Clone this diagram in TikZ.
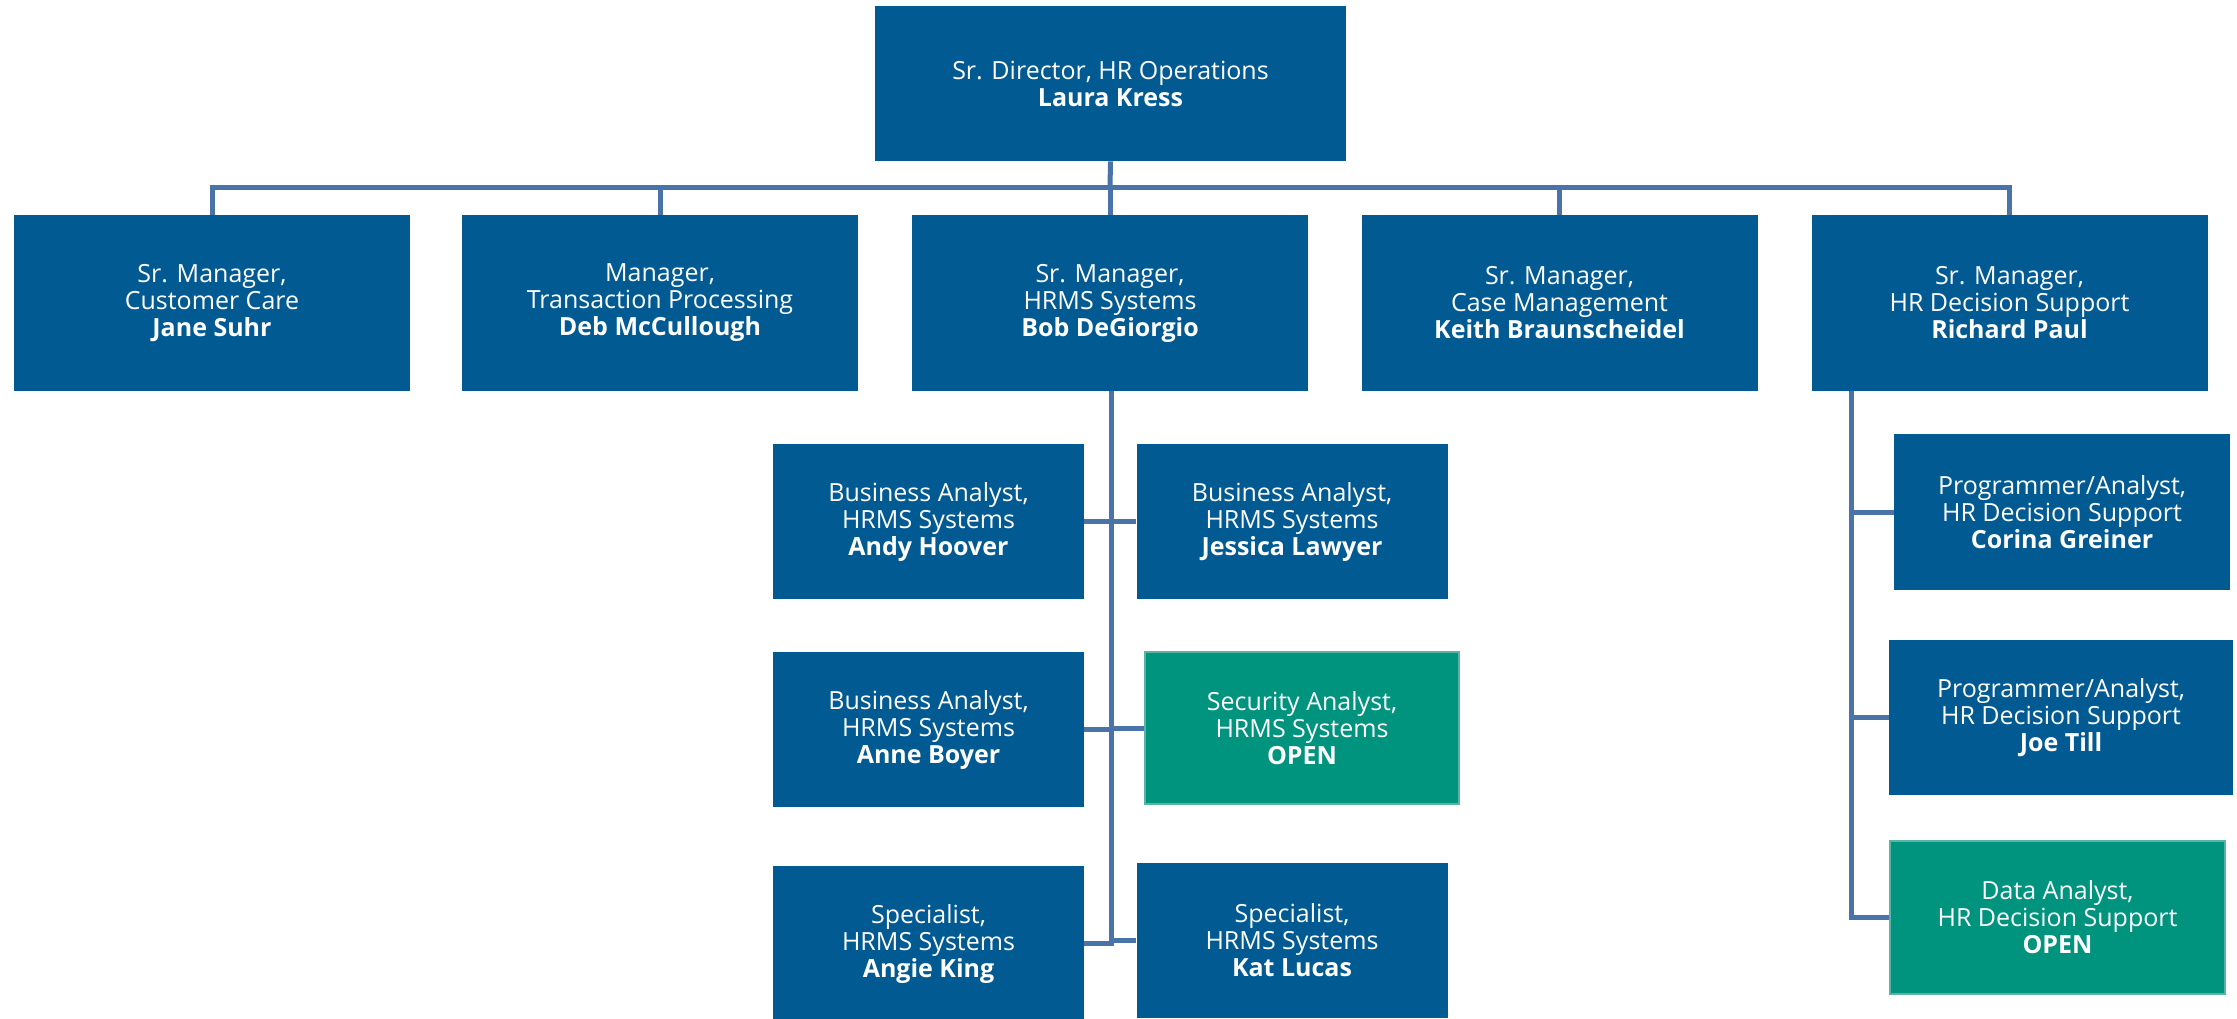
\documentclass[tikz,border=0pt]{standalone}
\usepackage{fontspec}
\setmainfont{Open Sans}
\definecolor{boxblue}{RGB}{2,90,147}
\definecolor{boxgreen}{RGB}{0,147,126}
\definecolor{greenedge}{RGB}{90,180,165}
\definecolor{linkblue}{RGB}{74,115,170}
\begin{document}
\begin{tikzpicture}[x=0.5pt,y=-0.5pt,
  orgbox/.style={fill=boxblue, text=white, align=center, inner sep=0pt,
    font=\fontsize{12.5}{13.5}\selectfont},
  openbox/.style={orgbox, fill=boxgreen, draw=greenedge, line width=0.6pt},
  lvltwo/.style={minimum width=198pt, minimum height=88pt},
  staff/.style={minimum width=155.5pt, minimum height=77.5pt},
  conn/.style={draw=linkblue, line width=2.5pt, line join=miter}]
\useasboundingbox (0,0) rectangle (2237,1018);
\fill[white] (0,0) rectangle (2237,1018);

% connectors first (behind boxes)
\coordinate (bar) at (1110,187);
\coordinate (hcol) at (1111,391);
\coordinate (dcol) at (1851,391);

% boxes
\node[orgbox, minimum width=235.5pt, minimum height=77.5pt] (dir) at (1110.5,83.5)
  {Sr. Director, HR Operations\\\textbf{Laura Kress}};

\node[orgbox, lvltwo] (care) at (212,303) {Sr. Manager,\\Customer Care\\\textbf{Jane Suhr}};
\node[orgbox, lvltwo] (trans) at (660,303) {Manager,\\Transaction Processing\\\textbf{Deb McCullough}};
\node[orgbox, lvltwo] (hrms) at (1110,303) {Sr. Manager,\\HRMS Systems\\\textbf{Bob DeGiorgio}};
\node[orgbox, lvltwo] (case) at (1559.5,303) {Sr. Manager,\\Case Management\\\textbf{Keith Braunscheidel}};
\node[orgbox, lvltwo] (dec) at (2009.5,303) {Sr. Manager,\\HR Decision Support\\\textbf{Richard Paul}};

\node[orgbox, staff] (andy) at (928.5,521.5) {Business Analyst,\\HRMS Systems\\\textbf{Andy Hoover}};
\node[orgbox, staff] (jess) at (1292,521.5) {Business Analyst,\\HRMS Systems\\\textbf{Jessica Lawyer}};
\node[orgbox, staff] (anne) at (928.5,729.5) {Business Analyst,\\HRMS Systems\\\textbf{Anne Boyer}};
\node[openbox, minimum width=157pt, minimum height=76pt] (sec) at (1302,728) {Security Analyst,\\HRMS Systems\\\textbf{OPEN}};
\node[orgbox, staff] (angie) at (928.5,943.5) {Specialist,\\HRMS Systems\\\textbf{Angie King}};
\node[orgbox, staff] (kat) at (1292,940.5) {Specialist,\\HRMS Systems\\\textbf{Kat Lucas}};

\node[orgbox, minimum width=168pt, minimum height=78pt] (cor) at (2062,512) {Programmer/Analyst,\\HR Decision Support\\\textbf{Corina Greiner}};
\node[orgbox, minimum width=172pt, minimum height=77.5pt] (joe) at (2061,717.5) {Programmer/Analyst,\\HR Decision Support\\\textbf{Joe Till}};
\node[openbox, minimum width=167.5pt, minimum height=76.5pt] (data) at (2057.5,917.5) {Data Analyst,\\HR Decision Support\\\textbf{OPEN}};

% top level connectors
\draw[conn] (dir.south) -- (bar);
\draw[conn] (care.north) |- (bar) -| (dec.north);
\foreach \n in {trans,hrms,case} \draw[conn] (\n.north) -- (\n.north |- bar);

% HRMS column
\draw[conn] (hcol) -- (hcol |- angie.east) -- (angie.east);
\draw[conn] (andy.east) -- (jess.west);
\draw[conn] (anne.east) -- (hcol |- anne.east);
\draw[conn] (sec.west) -- (hcol |- sec.west);
\draw[conn] (kat.west) -- (hcol |- kat.west);

% Decision support column
\draw[conn] (dcol) |- (data.west);
\draw[conn] (dcol |- cor.west) -- (cor.west);
\draw[conn] (dcol |- joe.west) -- (joe.west);
\end{tikzpicture}
\end{document}
